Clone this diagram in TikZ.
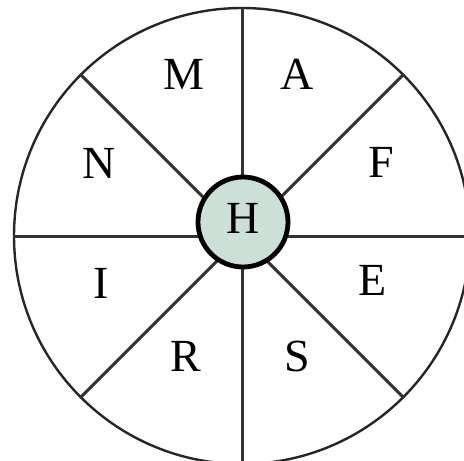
\documentclass[tikz,border=0pt]{standalone}
\usepackage{fontspec}
\setmainfont{Liberation Serif}
\definecolor{hubfill}{RGB}{204,224,216}
\definecolor{spokegray}{RGB}{50,50,50}
\begin{document}
\begin{tikzpicture}[x=1pt,y=-1pt,
  rim/.style={circle,draw=black!85,line width=2.4pt,inner sep=0pt,minimum size=456pt},
  spoke/.style={draw=spokegray,line width=3pt},
  hub/.style={circle,draw=black,fill=hubfill,line width=4.8pt,inner sep=0pt,minimum size=90pt},
  lbl/.style={anchor=base,inner sep=0pt,font=\fontsize{46}{50}\selectfont}]
\useasboundingbox (0,0) rectangle (464,461);
\clip (0,0) rectangle (464,461);
\fill[white] (0,0) rectangle (464,461);
\coordinate (c) at (242,236);
\node[rim] (rim) at (c) {};
\foreach \a in {0,45,...,315} {\draw[spoke] (c) -- (rim.\a);}
\node[hub] (hub) at (243,222) {};
\node[lbl] (h) at (243,233) {H};
\node[lbl] (m) at (184,89) {M};
\node[lbl] (a) at (297,89) {A};
\node[lbl] (n) at (99,178) {N};
\node[lbl] (f) at (381,177) {F};
\node[lbl] (i) at (101,298) {I};
\node[lbl] (e) at (373,295) {E};
\node[lbl] (r) at (186,371) {R};
\node[lbl] (s) at (297,371) {S};
\end{tikzpicture}
\end{document}
